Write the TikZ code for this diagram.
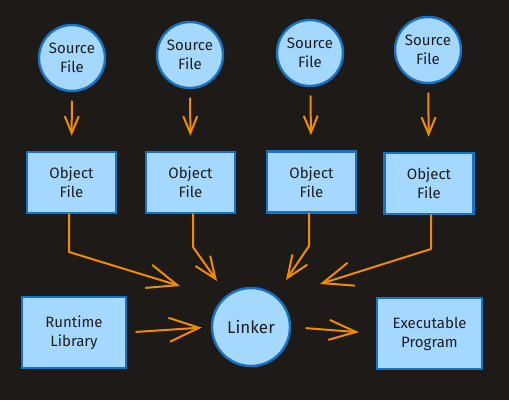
\documentclass[tikz,border=0pt]{standalone}
\usepackage{fontspec}
\setmainfont{Fira Sans}
\usetikzlibrary{arrows.meta}
\definecolor{bg}{HTML}{1E1A18}
\definecolor{strk}{HTML}{1971C2}
\definecolor{fil}{HTML}{A5D8FF}
\definecolor{arr}{HTML}{F08C00}
\definecolor{txt}{HTML}{1E1E1E}
\begin{document}
\begin{tikzpicture}[x=1pt,y=-1pt,
  lbl/.style={text=txt, align=center, font=\fontsize{15}{19}\selectfont},
  circ/.style={lbl, circle, draw=strk, fill=fil, line width=2.4pt, inner sep=0pt},
  box/.style={lbl, rectangle, draw=strk, fill=fil, line width=2.4pt, inner sep=0pt},
  conn/.style={draw=arr, line width=2pt, line cap=round, line join=round},
  smtip/.style={-{Straight Barb[length=17pt,width=14pt]}},
  mdtip/.style={-{Straight Barb[length=22pt,width=18pt]}},
  bgtip/.style={-{Straight Barb[length=30pt,width=24pt]}}
]
\fill[bg] (0,0) rectangle (509,400);
% sources
\node[circ, minimum size=66pt] (s1) at (72,58) {Source\\File};
\node[circ, minimum size=66pt] (s2) at (190,55) {Source\\File};
\node[circ, minimum size=66pt] (s3) at (310,53) {Source\\File};
\node[circ, minimum size=66pt] (s4) at (428,50) {Source\\File};
% objects
\node[box, minimum width=89pt, minimum height=61pt] (o1) at (71.5,182.5) {Object\\File};
\node[box, minimum width=89pt, minimum height=61pt] (o2) at (190.5,182.5) {Object\\File};
\node[box, minimum width=89pt, minimum height=61pt] (o3) at (311.5,182) {Object\\File};
\node[box, minimum width=89pt, minimum height=61pt] (o4) at (429,183.5) {Object\\File};
% bottom row
\node[box, minimum width=104pt, minimum height=71pt] (rt) at (74,332.5) {Runtime\\Library};
\node[circ, minimum size=78pt, font=\fontsize{17}{20}\selectfont] (lk) at (251,327) {Linker};
\node[box, minimum width=105pt, minimum height=71pt] (ex) at (429.5,333.5) {Executable\\Program};
% source -> object
\foreach \i in {1,2,3,4}{
  \draw[conn, smtip, shorten <=9pt, shorten >=15pt] (s\i) -- (o\i);
}
% object -> linker
\coordinate (b1) at (69,252);  \coordinate (e1) at (180,286);
\coordinate (b2) at (193,247); \coordinate (e2) at (217,281);
\coordinate (b3) at (309,246); \coordinate (e3) at (286,280);
\coordinate (b4) at (431,249); \coordinate (e4) at (320,284);
\draw[conn, bgtip] (b1 |- o1.south) -- (b1) -- (e1);
\draw[conn, mdtip] (b2 |- o2.south) -- (b2) -- (e2);
\draw[conn, mdtip] (b3 |- o3.south) -- (b3) -- (e3);
\draw[conn, bgtip] (b4 |- o4.south) -- (b4) -- (e4);
% runtime -> linker -> executable
\draw[conn, bgtip, shorten <=9pt, shorten >=9pt] (rt.east) -- (lk.west);
\draw[conn, {-{Straight Barb[length=27pt,width=20pt]}}, shorten <=15pt, shorten >=17pt] (lk.east) -- (ex.west);
\end{tikzpicture}
\end{document}
